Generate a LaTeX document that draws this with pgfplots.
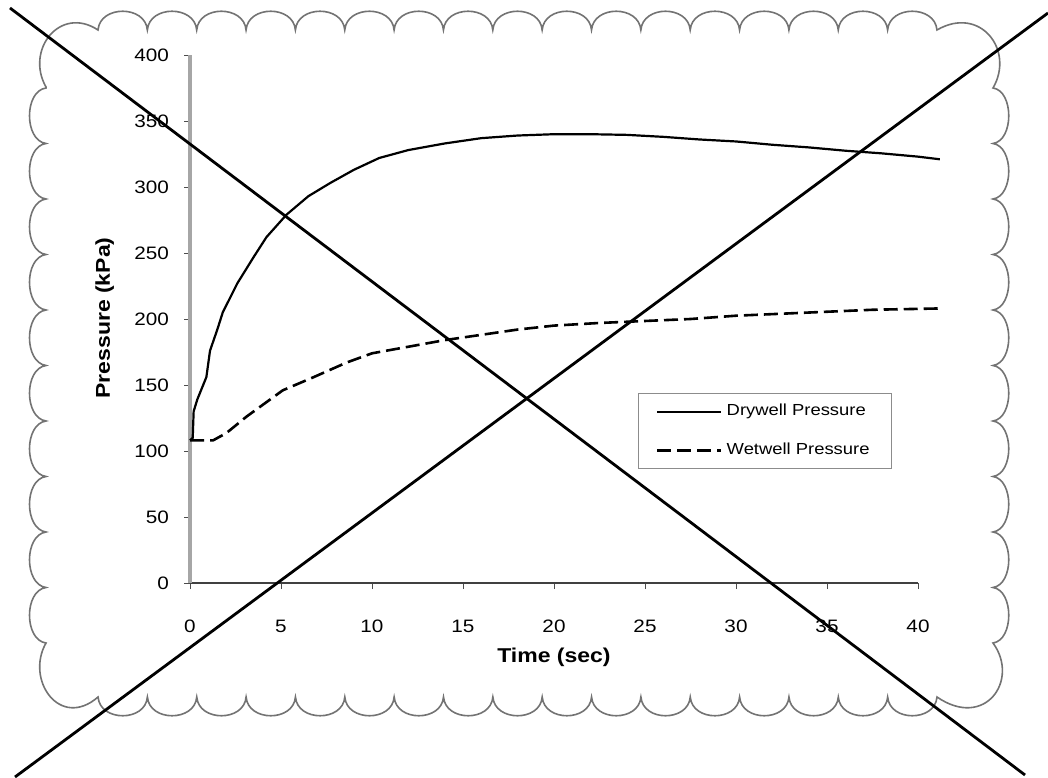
\documentclass[border=0pt]{standalone}
\usepackage{fontspec}
\setmainfont{Liberation Sans}[FakeStretch=1.15]
\usepackage{pgfplots}
\pgfplotsset{compat=1.18}

\begin{document}
\begin{tikzpicture}
\useasboundingbox (0,0) rectangle (524pt,388.5pt);
% scalloped frame (pixel coordinates of the 1048x777 page)
\begin{scope}[x=0.5pt,y=-0.5pt,yshift=388.5pt]
\draw[black!55, line width=0.8pt] (46,87) .. controls (25,50) and (60,5) .. (98,30)
 \foreach \k in {0,...,16} { .. controls ({98+49.35*\k+2},5) and ({98+49.35*(\k+1)-2},5) .. ({98+49.35*(\k+1)},30) }
 .. controls (980,5) and (1015,50) .. (993,88)
 \foreach \k in {0,...,9} { .. controls (1014,{88+55.5*\k+3}) and (1014,{88+55.5*(\k+1)-3}) .. (993,{88+55.5*(\k+1)}) }
 .. controls (1020,680) and (985,730) .. (937,697)
 \foreach \k in {0,...,16} { .. controls ({937-49.35*\k-2},722) and ({937-49.35*(\k+1)+2},722) .. ({937-49.35*(\k+1)},697) }
 .. controls (60,730) and (25,680) .. (46,643)
 \foreach \k in {0,...,9} { .. controls (24,{643-55.5*\k-3}) and (24,{643-55.5*(\k+1)+3}) .. (46,{643-55.5*(\k+1)}) }
 -- cycle;
\end{scope}
\begin{axis}[
  at={(95pt,97pt)}, anchor=south west,
  scale only axis, width=364pt, height=264pt,
  xmin=0, xmax=40, ymin=0, ymax=400,
  clip=false,
  axis lines=left, axis line style={-},
  x axis line style={black!75, line width=0.8pt},
  y axis line style={black!35, line width=2.2pt},
  xtick={0,5,...,40}, ytick={0,50,...,400},
  tick align=outside, major tick length=3pt,
  tick style={black!70, line width=0.5pt},
  ticklabel style={font=\fontsize{9}{10}\selectfont},
  /pgf/number format/assume math mode=true,
  xticklabel style={yshift=-12pt},
  yticklabel style={xshift=-4pt},
  xlabel={Time (sec)}, ylabel={Pressure (kPa)},
  label style={font=\bfseries\fontsize{10}{12}\selectfont},
  xlabel style={at={(axis description cs:0.5,-0.14)}, anchor=center},
  ylabel style={at={(axis description cs:-0.117,0.502)}, anchor=center},
  legend style={at={(axis description cs:0.615,0.36)}, anchor=north west,
    draw=black!45, font=\fontsize{8}{9}\selectfont, row sep=8pt,
    inner xsep=9pt, inner ysep=3.5pt},
  legend cell align=left,
  legend image code/.code={\draw[#1] (0pt,0pt) -- (32pt,0pt);},
]
\addplot[black, line width=1.1pt] coordinates {
(0,108) (0.15,110) (0.2,130) (0.4,139) (0.9,156) (1.1,176) (1.5,192) (1.8,205)
(2.6,227) (3.5,247) (4.2,262) (5.3,279) (6.5,293) (7.7,303) (9,313) (10.4,322)
(12,328) (14,333) (16,337) (18,339) (20,340) (22,340) (24,339.5) (26,338)
(28,336) (30,334.5) (32,332) (34,330) (36,327.5) (38,325.5) (40,323) (41.2,321)
};
\addlegendentry{Drywell Pressure}
\addplot[black, line width=1.3pt, dash pattern=on 7pt off 3pt] coordinates {
(0,108) (1.26,108) (2,113.6) (3.1,126) (4,135) (5.1,146) (6.8,156) (8.6,167)
(10,174) (12,179) (14,184) (16,188) (18,192) (20,195) (22.5,197) (25,198.5)
(27.5,200) (30,202.5) (32.5,204) (35,205.5) (37.5,207) (41.2,208)
};
\addlegendentry{Wetwell Pressure}
\end{axis}
% crossing-out lines
\begin{scope}[x=0.5pt,y=-0.5pt,yshift=388.5pt]
\draw[black, line width=1.4pt] (10,8) -- (1025,775);
\draw[black, line width=1.4pt] (1048,13) -- (15,777);
\end{scope}
\end{tikzpicture}
\end{document}
